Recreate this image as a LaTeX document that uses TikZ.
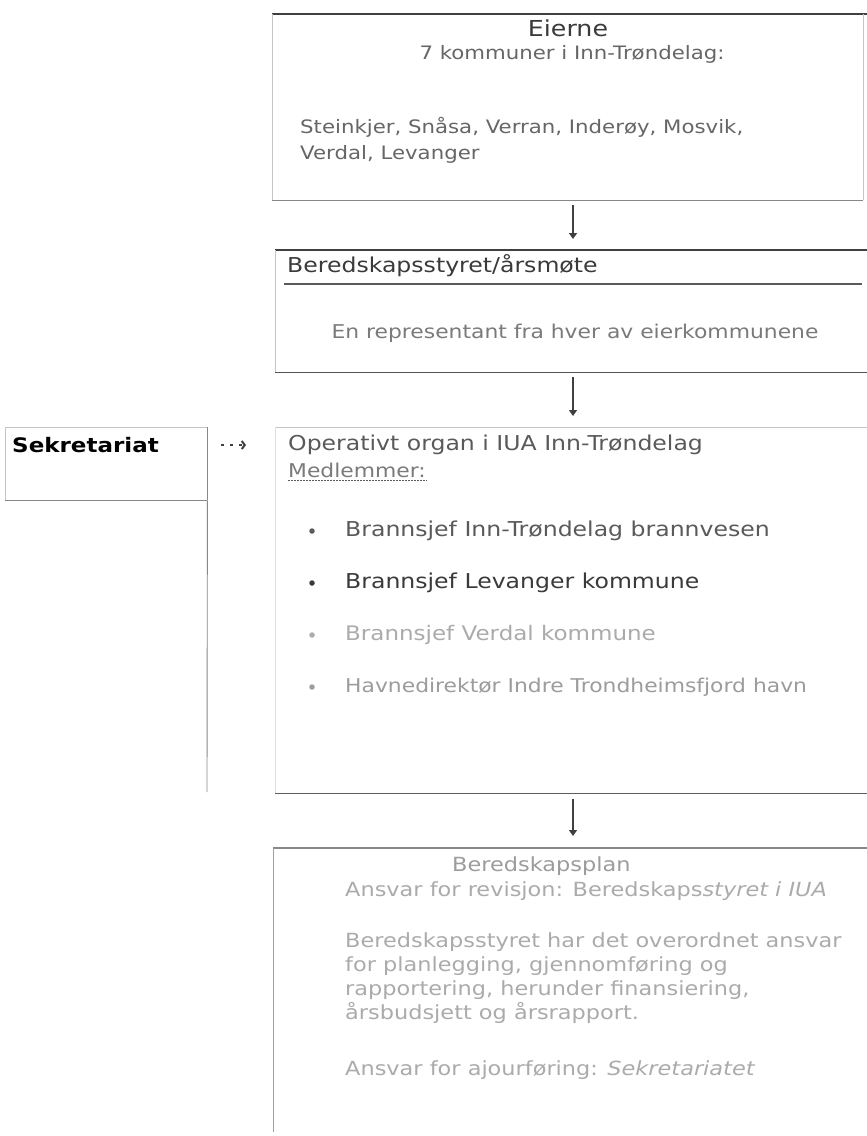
\documentclass[tikz,border=0pt]{standalone}
\usepackage{fontspec}
\setmainfont[FakeStretch=1.15]{DejaVu Sans}
\usetikzlibrary{arrows.meta,calc}
\definecolor{tdark}{HTML}{3A3A3A}
\definecolor{tmid}{HTML}{5A5A5A}
\definecolor{tgrey}{HTML}{666666}
\definecolor{tsoft}{HTML}{7A7A7A}
\definecolor{tlight}{HTML}{ABABAB}
\definecolor{tpale}{HTML}{9C9C9C}
\definecolor{ldark}{HTML}{404040}
\definecolor{lmid}{HTML}{888888}
\definecolor{llight}{HTML}{C4C4C4}
\tikzset{
  txt/.style={inner sep=0pt, anchor=west, font=\fontsize{19.5}{24}\selectfont, text=tmid},
  conn/.style={draw=ldark, line width=1.4pt, -{Triangle[width=8pt,length=6pt]}},
  toprule/.style={draw=ldark, line width=1.6pt},
  sideline/.style={draw=llight, line width=0.8pt},
  botline/.style={draw=lmid, line width=1.2pt},
  bul/.style={circle, inner sep=0pt, minimum size=5.5pt},
  dotarrow/.style={draw=ldark, line width=2pt, dash pattern=on 3pt off 6pt, -{Straight Barb[length=3pt,width=8pt]}},
}
\begin{document}
\begin{tikzpicture}[x=1pt,y=-1pt]
\useasboundingbox[fill=white] (0,0) rectangle (867,1136);

% ---- box 1: Eierne
\node[inner sep=0pt, minimum width=591, minimum height=186, anchor=north west] (eier) at (272,14) {};
\draw[toprule] (eier.north west) -- (eier.north east -| 867,0);
\draw[sideline] (eier.north west) -- (eier.south west);
\draw[sideline] (eier.north east) -- (eier.south east);
\draw[botline] (eier.south west) -- (eier.south east);
\node[txt, anchor=center, text=tdark, font=\fontsize{22}{26}\selectfont] (eierne) at (568,28) {Eierne};
\node[txt, anchor=center, text=tgrey, font=\fontsize{18.5}{22}\selectfont] (kommuner) at (572,54) {7 kommuner i Inn-Trøndelag:};
\node[txt, text=tgrey, font=\fontsize{18.5}{22}\selectfont] (steinkjer) at (300,127) {Steinkjer, Snåsa, Verran, Inderøy, Mosvik,};
\node[txt, text=tgrey, font=\fontsize{18.5}{22}\selectfont] (verdal) at (300,154) {Verdal, Levanger};

% ---- box 2: Beredskapsstyret
\node[inner sep=0pt, minimum width=592, minimum height=122, anchor=north west] (styret) at (275,250) {};
\draw[toprule, line width=1.3pt] (styret.north west) -- (styret.north east);
\draw[sideline] (styret.north west) -- (styret.south west);
\draw[botline, draw=ldark!90] (styret.south west) -- (styret.south east);
\node[txt, text=tdark, font=\fontsize{20.5}{24}\selectfont] (styrettitle) at (287,266) {Beredskapsstyret/årsmøte};
\draw[draw=tmid, line width=1.2pt] (284,284) -- (862,284);
\node[txt, anchor=center, text=tsoft, font=\fontsize{19}{23}\selectfont] (repr) at (575,333) {En representant fra hver av eierkommunene};

% ---- box 3: Operativt organ
\node[inner sep=0pt, minimum width=592, minimum height=366, anchor=north west] (operativt) at (275,427) {};
\draw[draw=llight, line width=1pt] (operativt.north west) -- (operativt.north east);
\draw[draw=llight!50, line width=0.8pt] (operativt.north west) -- (operativt.south west);
\draw[botline, draw=ldark!85] (operativt.south west) -- (operativt.south east);
\node[txt, font=\fontsize{20.5}{24}\selectfont] (optitle) at (288,445) {Operativt organ i IUA Inn-Trøndelag};
\node[txt, text=tsoft, font=\fontsize{19}{23}\selectfont] (medl) at (288,470) {Medlemmer:};
\draw[draw=tmid, line width=1pt, dash pattern=on 2pt off 1pt] ([yshift=-3pt]medl.south west) -- ([yshift=-3pt]medl.south east);
\node[bul, fill=tmid] (d1) at (312,531) {};
\node[txt, text=tmid, font=\fontsize{20.5}{24}\selectfont] (m1) at (345,531) {Brannsjef Inn-Trøndelag brannvesen};
\node[bul, fill=tdark] (d2) at (312,583) {};
\node[txt, text=tdark, font=\fontsize{20.5}{24}\selectfont] (m2) at (345,583) {Brannsjef Levanger kommune};
\node[bul, fill=tlight] (d3) at (312,635) {};
\node[txt, text=tlight, font=\fontsize{20}{24}\selectfont] (m3) at (345,635) {Brannsjef Verdal kommune};
\node[bul, fill=tpale] (d4) at (312,687) {};
\node[txt, text=tpale, font=\fontsize{19}{24}\selectfont] (m4) at (345,687) {Havnedirektør Indre Trondheimsfjord havn};

% ---- Sekretariat
\node[inner sep=0pt, minimum width=202, minimum height=73, anchor=north west] (sek) at (5,427) {};
\draw[draw=llight, line width=0.8pt] (sek.south west) -- (sek.north west) -- (sek.north east);
\draw[draw=lmid, line width=1pt] (sek.south west) -- (sek.south east);
\draw[draw=lmid, line width=0.9pt] (sek.north east) -- (sek.south east);
\node[txt, font=\fontsize{20}{24}\selectfont\bfseries, text=black] (sektxt) at (12,445) {Sekretariat};
\coordinate (sekend) at (207,792);
\draw[draw=lmid, line width=0.9pt] (sek.south east) -- (sekend);
\draw[dotarrow] ($(sek.east |- sektxt.west)+(14,0)$) -- ($(optitle.west)+(-42,0)$);

% ---- box 4: Beredskapsplan
\node[inner sep=0pt, minimum width=594, minimum height=284, anchor=north west] (plan) at (273,848) {};
\draw[draw=lmid, line width=1.2pt] (plan.north west) -- (plan.north east);
\draw[draw=lmid!80, line width=0.9pt] (plan.north west) -- (plan.south west);
\node[txt, text=tpale] (plantitle) at (452,866) {Beredskapsplan};
\node[txt, text=tlight] (p1) at (345,891) {Ansvar for revisjon: Beredskaps\textit{styret i IUA}};
\node[txt, text=tlight, anchor=north west, align=left] (p2) at (345,932) {Beredskapsstyret har det overordnet ansvar\\for planlegging, gjennomføring og\\rapportering, herunder finansiering,\\årsbudsjett og årsrapport.};
\node[txt, text=tlight] (p3) at (345,1070) {Ansvar for ajourføring: \textit{Sekretariatet}};

% ---- connectors
\draw[conn] ($(eier.south -| 573,0)+(0,5)$) -- ($(styret.north -| 573,0)+(0,-11)$);
\draw[conn] ($(styret.south -| 573,0)+(0,5)$) -- ($(operativt.north -| 573,0)+(0,-11)$);
\draw[conn] ($(operativt.south -| 573,0)+(0,6)$) -- ($(plan.north -| 573,0)+(0,-12)$);
\end{tikzpicture}
\end{document}
